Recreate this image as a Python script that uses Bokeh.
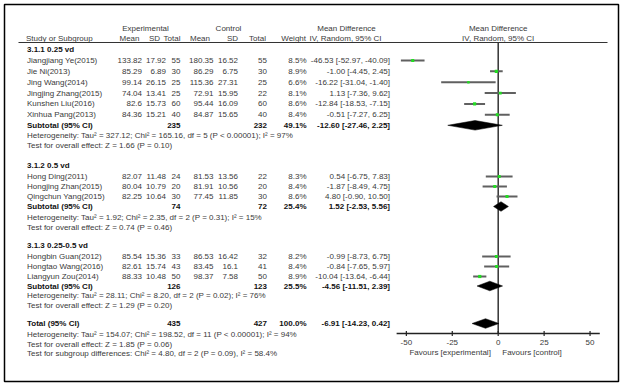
from bokeh.plotting import figure
from bokeh.models import Range1d
from bokeh.embed import file_html
from bokeh.resources import INLINE
from bokeh.core.properties import value

# ---------------- data ----------------
group_titles = ["3.1.1 0.25 vd", "3.1.2 0.5 vd", "3.1.3 0.25-0.5 vd"]
study = ["Jiangjiang Ye(2015)", "Jie Ni(2013)", "Jing Wang(2014)", "Jingjing Zhang(2015)",
         "Kunshen Liu(2016)", "Xinhua Pang(2013)",
         "Hong Ding(2011)", "Hongjing Zhan(2015)", "Qingchun Yang(2015)",
         "Hongbin Guan(2012)", "Hongtao Wang(2016)", "Liangyun Zou(2014)"]
exp_mean = [133.82, 85.29, 99.14, 74.04, 82.6, 84.36, 82.07, 80.04, 82.25, 85.54, 82.61, 88.33]
exp_sd = [17.92, 6.89, 26.15, 13.41, 15.73, 15.21, 11.48, 10.79, 10.64, 15.36, 15.74, 10.48]
exp_n = [55, 30, 25, 25, 60, 40, 24, 20, 30, 33, 43, 50]
ctl_mean = [180.35, 86.29, 115.36, 72.91, 95.44, 84.87, 81.53, 81.91, 77.45, 86.53, 83.45, 98.37]
ctl_sd = [16.52, 6.75, 27.31, 15.95, 16.09, 15.65, 13.56, 10.56, 11.85, 16.42, 16.1, 7.58]
ctl_n = [55, 30, 25, 22, 60, 40, 22, 20, 30, 32, 41, 50]
weight = [8.5, 8.9, 6.6, 8.1, 8.6, 8.4, 8.3, 8.4, 8.6, 8.2, 8.4, 8.9]
md = [-46.53, -1.00, -16.22, 1.13, -12.84, -0.51, 0.54, -1.87, 4.80, -0.99, -0.84, -10.04]
md_lo = [-52.97, -4.45, -31.04, -7.36, -18.53, -7.27, -6.75, -8.49, -0.90, -8.73, -7.65, -13.64]
md_hi = [-40.09, 2.45, -1.40, 9.62, -7.15, 6.25, 7.83, 4.75, 10.50, 6.75, 5.97, -6.44]

sub_n_exp = [235, 74, 126]
sub_n_ctl = [232, 72, 123]
sub_weight = [49.1, 25.4, 25.5]
sub_md = [-12.60, 1.52, -4.56]
sub_lo = [-27.46, -2.53, -11.51]
sub_hi = [2.25, 5.56, 2.39]
sub_het = ["Heterogeneity: Tau\u00b2 = 327.12; Chi\u00b2 = 165.16, df = 5 (P < 0.00001); I\u00b2 = 97%",
           "Heterogeneity: Tau\u00b2 = 1.92; Chi\u00b2 = 2.35, df = 2 (P = 0.31); I\u00b2 = 15%",
           "Heterogeneity: Tau\u00b2 = 28.11; Chi\u00b2 = 8.20, df = 2 (P = 0.02); I\u00b2 = 76%"]
sub_test = ["Test for overall effect: Z = 1.66 (P = 0.10)",
            "Test for overall effect: Z = 0.74 (P = 0.46)",
            "Test for overall effect: Z = 1.29 (P = 0.20)"]

total_n_exp = 435
total_n_ctl = 427
total_weight = 100.0
total_md = -6.91
total_lo = -14.23
total_hi = 0.42
total_het = "Heterogeneity: Tau\u00b2 = 154.07; Chi\u00b2 = 198.52, df = 11 (P < 0.00001); I\u00b2 = 94%"
total_test = "Test for overall effect: Z = 1.85 (P = 0.06)"
subgroup_test = "Test for subgroup differences: Chi\u00b2 = 4.80, df = 2 (P = 0.09), I\u00b2 = 58.4%"

ticks = [-50, -25, 0, 25, 50]
tick_labels = ["-50", "-25", "0", "25", "50"]
favours_left = "Favours [experimental]"
favours_right = "Favours [control]"

# ---------------- layout (pixel positions of the page) ----------------
W, H = 620, 383
FONT = "Liberation Sans"
FS = "8px"
TXT = "#3a3a3a"
BOLD = "#111111"

study_y = [60, 70.8, 81.7, 92.6, 103.4, 114.3, 176, 186, 196, 256, 266, 276]
title_y = [49, 165, 245]
sub_y = [124.8, 206, 285.5]
het_y = [135, 217, 295]
test_y = [144.5, 227, 305]
total_y = 323
tot_het_y = 334
tot_test_y = 344
subgrp_y = 353
axis_y = 333
ticklab_y = 341.5
fav_y = 351.5
head1_y = 27.5
head2_y = 38
line_y = 42

X_NAME = 26.5
X_EM, X_ESD, X_EN = 141.5, 165.5, 180
X_CM, X_CSD, X_CN = 213, 237.5, 266.5
X_W = 306
X_CI = 389.5
ZERO_PX = 497.7
PX_PER = 1.837

p = figure(width=W, height=H, x_range=Range1d(0, W), y_range=Range1d(H, 0),
           output_backend="svg", toolbar_location=None, min_border=0,
           x_axis_type=None, y_axis_type=None)
p.outline_line_color = None
p.background_fill_color = "white"
p.border_fill_color = "white"
p.extra_x_ranges = {"md": Range1d((0 - ZERO_PX) / PX_PER, (W - ZERO_PX) / PX_PER)}

# frame border
p.quad(left=[4], right=[618], top=[4], bottom=[381], fill_color=None,
       line_color="black", line_width=1.5)


def txt(xs, ys, texts, align="left", bold=False, color=None, rng=None):
    kw = dict(x=xs, y=ys, text=texts, text_align=align, text_baseline="middle",
              text_font=value(FONT), text_font_size=FS,
              text_font_style=value("bold" if bold else "normal"),
              text_color=color or (BOLD if bold else TXT))
    if rng:
        kw["x_range_name"] = rng
    p.text(**kw)


def fmt(v):
    return f"{v:g}"


def ci(m, lo, hi):
    return f"{m:.2f} [{lo:.2f}, {hi:.2f}]"


# headers
txt([145, 228], [head1_y] * 2, ["Experimental", "Control"], "center")
txt([346, ZERO_PX], [head1_y] * 2, ["Mean Difference", "Mean Difference"], "center")
txt([25.5], [head2_y], ["Study or Subgroup"])
txt([139, 159.5, 180, 209.5, 237.5, 265.5, 305.5],
    [head2_y] * 7, ["Mean", "SD", "Total", "Mean", "SD", "Total", "Weight"], "right")
txt([345, ZERO_PX], [head2_y] * 2, ["IV, Random, 95% CI", "IV, Random, 95% CI"], "center")
p.segment(x0=[18], y0=[line_y], x1=[607], y1=[line_y], line_color="#333333", line_width=1.2)

# group titles
txt([X_NAME] * 3, title_y, group_titles, bold=True)

# study rows
n = len(study)
txt([X_NAME] * n, study_y, study)
txt([X_EM] * n, study_y, [fmt(v) for v in exp_mean], "right")
txt([X_ESD] * n, study_y, [fmt(v) for v in exp_sd], "right")
txt([X_EN] * n, study_y, [str(v) for v in exp_n], "right")
txt([X_CM] * n, study_y, [fmt(v) for v in ctl_mean], "right")
txt([X_CSD] * n, study_y, [fmt(v) for v in ctl_sd], "right")
txt([X_CN] * n, study_y, [str(v) for v in ctl_n], "right")
txt([X_W] * n, study_y, [f"{w:.1f}%" for w in weight], "right")
txt([X_CI] * n, study_y, [ci(a, b, c) for a, b, c in zip(md, md_lo, md_hi)], "right")

# subtotal rows
txt([X_NAME] * 3, sub_y, ["Subtotal (95% CI)"] * 3, bold=True)
txt([X_EN] * 3, sub_y, [str(v) for v in sub_n_exp], "right", bold=True)
txt([X_CN] * 3, sub_y, [str(v) for v in sub_n_ctl], "right", bold=True)
txt([X_W] * 3, sub_y, [f"{w:.1f}%" for w in sub_weight], "right", bold=True)
txt([X_CI] * 3, sub_y, [ci(a, b, c) for a, b, c in zip(sub_md, sub_lo, sub_hi)], "right", bold=True)
txt([X_NAME] * 3, het_y, sub_het)
txt([X_NAME] * 3, test_y, sub_test)

# total rows
txt([X_NAME], [total_y], ["Total (95% CI)"], bold=True)
txt([X_EN], [total_y], [str(total_n_exp)], "right", bold=True)
txt([X_CN], [total_y], [str(total_n_ctl)], "right", bold=True)
txt([X_W], [total_y], [f"{total_weight:.1f}%"], "right", bold=True)
txt([X_CI], [total_y], [ci(total_md, total_lo, total_hi)], "right", bold=True)
txt([X_NAME] * 3, [tot_het_y, tot_test_y, subgrp_y], [total_het, total_test, subgroup_test])

# ---------------- forest plot ----------------
p.segment(x0=[0], y0=[line_y], x1=[0], y1=[axis_y], x_range_name="md",
          line_color="#333333", line_width=1.5)
p.segment(x0=md_lo, y0=study_y, x1=md_hi, y1=study_y, x_range_name="md",
          line_color="#606060", line_width=2)
p.scatter(x=md, y=study_y, marker="square", size=[w * 0.36 for w in weight],
          fill_color="#22dd22", line_color=None, x_range_name="md")

HH = 4.8
d_m = sub_md + [total_md]
d_lo = sub_lo + [total_lo]
d_hi = sub_hi + [total_hi]
d_y = sub_y + [total_y]
p.patches(xs=[[lo, m, hi, m] for m, lo, hi in zip(d_m, d_lo, d_hi)],
          ys=[[y, y - HH, y, y + HH] for y in d_y], x_range_name="md",
          fill_color="black", line_color="black", line_width=0.5)

# axis
p.segment(x0=[ticks[0] - 5.3], y0=[axis_y], x1=[ticks[-1] + 5.3], y1=[axis_y],
          x_range_name="md", line_color="#222222", line_width=1.5)
p.segment(x0=ticks, y0=[axis_y - 2.5] * len(ticks), x1=ticks, y1=[axis_y + 2.5] * len(ticks),
          x_range_name="md", line_color="#222222", line_width=1.2)
txt(ticks, [ticklab_y] * len(ticks), tick_labels, "center", rng="md")
txt([-4], [fav_y], [favours_left], "right", rng="md")
txt([2.2], [fav_y], [favours_right], "left", rng="md")

open("out.html", "w").write(file_html(p, INLINE))
